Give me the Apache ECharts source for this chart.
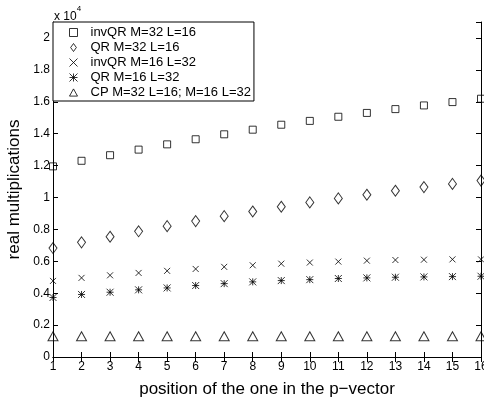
<!DOCTYPE html>
<html>
<head>
<meta charset="utf-8">
<script src="https://cdn.jsdelivr.net/npm/echarts@6/dist/echarts.min.js"></script>
<style>
  html, body { margin: 0; padding: 0; background: #fff; }
  #chart { width: 484px; height: 405px; }
</style>
</head>
<body>
<div id="chart"></div>
<script>
// positions 1..16 of the one in the p-vector
var positions = [1, 2, 3, 4, 5, 6, 7, 8, 9, 10, 11, 12, 13, 14, 15, 16];

// real multiplications
var invQR32 = [11950, 12300, 12650, 13000, 13330, 13650, 13960, 14250, 14560, 14800, 15060, 15300, 15540, 15770, 15980, 16190];
var qr32 = [6830, 7190, 7540, 7880, 8200, 8520, 8830, 9120, 9420, 9690, 9940, 10170, 10420, 10650, 10850, 11060];
var invQR16 = [4770, 4960, 5120, 5270, 5400, 5520, 5650, 5750, 5850, 5920, 5980, 6040, 6080, 6100, 6120, 6120];
var qr16 = [3730, 3920, 4060, 4210, 4330, 4480, 4600, 4710, 4790, 4850, 4920, 4960, 5000, 5020, 5040, 5060];
var cp = [1300, 1300, 1300, 1300, 1300, 1300, 1300, 1300, 1300, 1300, 1300, 1300, 1300, 1300, 1300, 1300];

var names = ['invQR M=32 L=16', 'QR M=32 L=16', 'invQR M=16 L=32', 'QR M=16 L=32', 'CP M=32 L=16; M=16 L=32'];

var pair = function(vals){
    return positions.map(function(p, i){ return [p, vals[i]]; });
};

var FONT = 'Liberation Sans';

var hollow = { color: 'rgba(255,255,255,0)', borderColor: '#000', borderWidth: 1 };

// marker shapes
var DIAMOND = 'path://M5 0L10 7L5 14L0 7Z';
var CROSS = 'path://M0 0L10 10M10 0L0 10';
var STAR = 'path://M0 0L10 10M10 0L0 10M5 0L5 10M0 5L10 5';
var TRI = 'path://M5 0L10 9L0 9Z';

var chart = echarts.init(document.getElementById('chart'));

var option = {
    animation: false,
    backgroundColor: '#fff',
    textStyle: { fontFamily: FONT, color: '#000' },
    grid: { left: 53, right: 3, top: 22, bottom: 48, outerBoundsMode: 'none' },
    xAxis: [{
        type: 'value', min: 1, max: 16, interval: 1,
        name: 'position of the one in the p\u2212vector',
        nameLocation: 'middle', nameGap: 24,
        nameTextStyle: { fontSize: 17, color: '#000', fontFamily: FONT },
        axisLine: { lineStyle: { color: '#000', width: 1 } },
        axisTick: { inside: true, length: 5, lineStyle: { color: '#000' } },
        axisLabel: { fontSize: 12, color: '#000', margin: 4, fontFamily: FONT },
        splitLine: { show: false }
    }, {
        type: 'value', min: 1, max: 16, interval: 1, position: 'top',
        axisLine: { lineStyle: { color: '#000', width: 1 } },
        axisTick: { inside: true, length: 5, lineStyle: { color: '#000' } },
        axisLabel: { show: false },
        splitLine: { show: false }
    }],
    yAxis: [{
        type: 'value', min: 0, max: 21000, interval: 2000,
        name: 'real multiplications',
        nameLocation: 'middle', nameGap: 30,
        nameTextStyle: { fontSize: 17, color: '#000', fontFamily: FONT },
        axisLine: { show: true, lineStyle: { color: '#000', width: 1 } },
        axisTick: { show: true, inside: true, length: 5, lineStyle: { color: '#000' } },
        axisLabel: {
            fontSize: 12, color: '#000', margin: 3, fontFamily: FONT,
            formatter: function(v){ return v > 20000 ? '' : String(v / 10000); }
        },
        splitLine: { show: false }
    }, {
        type: 'value', min: 0, max: 21000, interval: 2000, position: 'right',
        axisLine: { show: true, lineStyle: { color: '#000', width: 1 } },
        axisTick: { show: true, inside: true, length: 5, lineStyle: { color: '#000' } },
        axisLabel: { show: false },
        splitLine: { show: false }
    }],
    legend: {
        orient: 'vertical',
        left: 53, top: 22,
        padding: [4, 3, 2, 16],
        itemWidth: 8, itemHeight: 8, itemGap: 2,
        backgroundColor: '#fff',
        borderColor: '#000', borderWidth: 1, borderRadius: 0,
        itemStyle: { borderWidth: 1 },
        textStyle: { fontSize: 13, lineHeight: 13, color: '#000', fontFamily: FONT, padding: [0, 0, 0, 8] },
        data: [
            { name: names[0], icon: 'rect' },
            { name: names[1], icon: DIAMOND },
            { name: names[2], icon: CROSS },
            { name: names[3], icon: STAR },
            { name: names[4], icon: TRI }
        ]
    },
    graphic: [{
        type: 'text', left: 54, top: 5,
        style: {
            text: '{a|x 10}{b|4}',
            rich: {
                a: { fontSize: 12, fontFamily: FONT, fill: '#000', padding: [6, 0, 0, 0] },
                b: { fontSize: 8, fontFamily: FONT, fill: '#000', verticalAlign: 'top' }
            }
        }
    }],
    series: [{
        name: names[0], type: 'scatter', data: pair(invQR32),
        symbol: 'rect', symbolSize: 7, itemStyle: hollow
    }, {
        name: names[1], type: 'scatter', data: pair(qr32),
        symbol: DIAMOND, symbolSize: [8, 11], itemStyle: hollow
    }, {
        name: names[2], type: 'scatter', data: pair(invQR16),
        symbol: CROSS, symbolSize: 6, itemStyle: hollow
    }, {
        name: names[3], type: 'scatter', data: pair(qr16),
        symbol: STAR, symbolSize: 7, itemStyle: hollow
    }, {
        name: names[4], type: 'scatter', data: pair(cp),
        symbol: TRI, symbolSize: [10, 9], itemStyle: hollow
    }]
};

chart.setOption(option);
</script>
</body>
</html>
